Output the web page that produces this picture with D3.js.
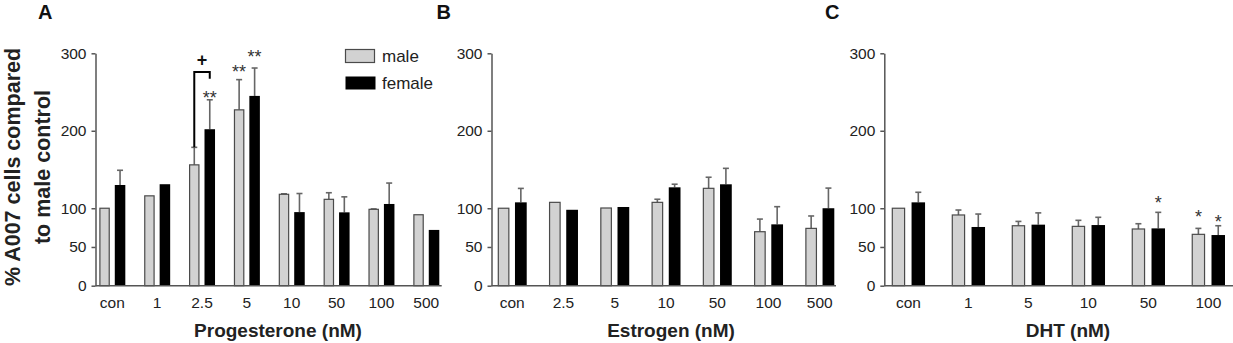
<!DOCTYPE html>
<html>
<head>
<meta charset="utf-8">
<script src="https://cdn.jsdelivr.net/npm/d3@7"></script>
<style>
  html, body { margin: 0; padding: 0; background: #fff; }
  svg { display: block; font-family: Arial, "Liberation Sans", sans-serif; }
</style>
</head>
<body>
<svg id="chart" width="1233" height="343"></svg>
<script>
// ---------------- data ----------------
const seriesNames = ["male", "female"];
const yTicks = [0, 50, 100, 200, 300];

const catsA = ["con", "1", "2.5", "5", "10", "50", "100", "500"];
const maleA = [100, 116, 156, 227, 118, 111.5, 98.6, 91.6];
const maleErrA = [0, 0, 22.6, 39, 0.6, 8.5, 0.5, 0];
const femaleA = [130, 131, 202, 245, 95, 94.7, 105.5, 72];
const femaleErrA = [19, 0, 38, 36, 24, 20, 27, 0];

const catsB = ["con", "2.5", "5", "10", "50", "100", "500"];
const maleB = [100, 107.6, 100.3, 107.6, 125.7, 69.7, 74];
const maleErrB = [0, 0, 0, 4, 14.3, 16.3, 16];
const femaleB = [107.6, 98, 101.6, 127, 130.9, 79.2, 100];
const femaleErrB = [18, 0, 0, 4, 20.6, 22.8, 26];

const catsC = ["con", "1", "5", "10", "50", "100"];
const maleC = [100, 91.3, 77.4, 76.6, 73.2, 66.3];
const maleErrC = [0, 6.4, 5.6, 7.8, 6.8, 7.7];
const femaleC = [107.6, 75.8, 78.8, 78.3, 74, 65.4];
const femaleErrC = [13, 16.7, 15.2, 10, 20.7, 12];

// significance marks: category, series, label, level (data units)
const marksA = [
  { cat: "2.5", s: "female", t: "**", level: 248 },
  { cat: "5", s: "male", t: "**", level: 280.6 },
  { cat: "5", s: "female", t: "**", level: 300 }
];
const marksB = [];
const marksC = [
  { cat: "50", s: "female", t: "*", level: 111.5 },
  { cat: "100", s: "male", t: "*", level: 93.5 },
  { cat: "100", s: "female", t: "*", level: 87 }
];
// bracket comparing male vs female at 2.5 nM (Progesterone)
const bracketA = { cat: "2.5", top: 276, rightEnd: 267, label: "+", labelLevel: 291.5 };

// ---------------- layout ----------------
const svg = d3.select("#chart");
const y = d3.scaleLinear().domain([0, 300]).range([285.7, 53.3]);

const panels = [
  { letter: "A", letterX: 38, cats: catsA, male: maleA, maleErr: maleErrA, female: femaleA, femaleErr: femaleErrA,
    marks: marksA, axisX: 95.5, axisEnd: 441.7, band: [99.3, 439.3], pad: 0.42, title: "Progesterone (nM)", titleX: 278, bracket: bracketA },
  { letter: "B", letterX: 436.5, cats: catsB, male: maleB, maleErr: maleErrB, female: femaleB, femaleErr: femaleErrB,
    marks: marksB, axisX: 491.5, axisEnd: 836, band: [497.7, 834.3], pad: 0.434, title: "Estrogen (nM)", titleX: 671 },
  { letter: "C", letterX: 825, cats: catsC, male: maleC, maleErr: maleErrC, female: femaleC, femaleErr: femaleErrC,
    marks: marksC, axisX: 884.3, axisEnd: 1233, band: [891.7, 1225], pad: 0.444, title: "DHT (nM)", titleX: 1068 }
];

const axisColor = "#555";
const maleFill = "#d2d2d2";
const femaleFill = "#000";
const errColor = "#666";

panels.forEach(p => {
  const g = svg.append("g");
  const x = d3.scaleBand().domain(p.cats).range(p.band).paddingInner(p.pad).paddingOuter(0);
  const xs = d3.scaleBand().domain(seriesNames).range([0, x.bandwidth()]).paddingInner(0.32).paddingOuter(0);

  // panel letter
  g.append("text").attr("x", p.letterX).attr("y", 18.5).attr("font-size", 20).attr("font-weight", "bold")
    .attr("fill", "#111").text(p.letter);

  // y axis
  const yAxis = d3.axisLeft(y).tickValues(yTicks).tickSize(4).tickPadding(5).tickSizeOuter(0);
  const ya = g.append("g").attr("transform", `translate(${p.axisX},0)`).call(yAxis);
  ya.select(".domain").attr("stroke", axisColor).attr("stroke-width", 1.5);
  ya.selectAll(".tick line").attr("stroke", axisColor).attr("stroke-width", 1.5);
  ya.selectAll(".tick text").attr("font-size", 15.5).attr("fill", "#222").attr("font-family", "Arial, 'Liberation Sans', sans-serif");

  // bars
  const rows = [];
  p.cats.forEach((c, i) => {
    rows.push({ c, s: "male", v: p.male[i], e: p.maleErr[i] });
    rows.push({ c, s: "female", v: p.female[i], e: p.femaleErr[i] });
  });

  // error bars (upper only)
  const eb = g.append("g");
  rows.filter(d => d.e > 0).forEach(d => {
    const cx = x(d.c) + xs(d.s) + xs.bandwidth() / 2;
    eb.append("line").attr("x1", cx).attr("x2", cx).attr("y1", y(d.v)).attr("y2", y(d.v + d.e))
      .attr("stroke", errColor).attr("stroke-width", 1.6);
    eb.append("line").attr("x1", cx - 3).attr("x2", cx + 3).attr("y1", y(d.v + d.e)).attr("y2", y(d.v + d.e))
      .attr("stroke", errColor).attr("stroke-width", 1.6);
  });

  g.append("g").selectAll("rect").data(rows).join("rect")
    .attr("x", d => x(d.c) + xs(d.s) + (d.s === "male" ? 0.6 : 0))
    .attr("width", d => xs.bandwidth() - (d.s === "male" ? 1.2 : 0))
    .attr("y", d => y(d.v))
    .attr("height", d => y(0) - y(d.v))
    .attr("fill", d => d.s === "male" ? maleFill : femaleFill)
    .attr("stroke", d => d.s === "male" ? "#4a4a4a" : "none")
    .attr("stroke-width", 1.2);

  // x axis
  const xAxis = d3.axisBottom(x).tickSize(0).tickPadding(11);
  const xa = g.append("g").attr("transform", `translate(0,${y(0)})`).call(xAxis);
  xa.select(".domain").remove();
  xa.append("line").attr("x1", p.axisX).attr("x2", p.axisEnd).attr("y1", 0).attr("y2", 0)
    .attr("stroke", axisColor).attr("stroke-width", 1.5);
  xa.selectAll(".tick text").attr("font-size", 15.5).attr("fill", "#222").attr("font-family", "Arial, 'Liberation Sans', sans-serif");

  // axis title
  g.append("text").attr("x", p.titleX).attr("y", 337).attr("text-anchor", "middle")
    .attr("font-size", 19).attr("font-weight", "bold").attr("fill", "#222").text(p.title);

  // significance marks
  p.marks.forEach(m => {
    const cx = x(m.cat) + xs(m.s) + xs.bandwidth() / 2;
    g.append("text").attr("x", cx).attr("y", y(m.level) + 10).attr("text-anchor", "middle")
      .attr("font-size", 18).attr("fill", "#333").text(m.t);
  });

  // bracket
  if (p.bracket) {
    const b = p.bracket;
    const i = p.cats.indexOf(b.cat);
    const lx = x(b.cat) + xs("male") + xs.bandwidth() / 2;
    const rx = x(b.cat) + xs("female") + xs.bandwidth() / 2;
    const ly = y(p.male[i] + p.maleErr[i]);
    g.append("path")
      .attr("d", `M${lx},${ly} L${lx},${y(b.top)} L${rx},${y(b.top)} L${rx},${y(b.rightEnd)}`)
      .attr("fill", "none").attr("stroke", "#000").attr("stroke-width", 2);
    g.append("text").attr("x", (lx + rx) / 2).attr("y", y(b.labelLevel) + 6).attr("text-anchor", "middle")
      .attr("font-size", 18).attr("font-weight", "bold").attr("fill", "#111").text(b.label);
  }
});

// legend (panel A)
const legend = svg.append("g");
const legendRows = [
  { s: "male", y: 49.5 },
  { s: "female", y: 76.5 }
];
legendRows.forEach(r => {
  legend.append("rect").attr("x", 345.5).attr("y", r.y).attr("width", r.s === "male" ? 29 : 30).attr("height", 13)
    .attr("fill", r.s === "male" ? maleFill : femaleFill)
    .attr("stroke", r.s === "male" ? "#4a4a4a" : "none").attr("stroke-width", 1.2);
  legend.append("text").attr("x", 382).attr("y", r.y + 12).attr("font-size", 17).attr("fill", "#222").text(r.s);
});

// y axis label
const ylab = svg.append("g").attr("transform", "translate(0,167) rotate(-90)");
ylab.append("text").attr("x", 0).attr("y", 19.5).attr("text-anchor", "middle")
  .attr("font-size", 21.5).attr("font-weight", "bold").attr("fill", "#222").text("% A007 cells compared");
ylab.append("text").attr("x", 0).attr("y", 50).attr("text-anchor", "middle")
  .attr("font-size", 21.5).attr("font-weight", "bold").attr("fill", "#222").text("to male control");
</script>
</body>
</html>
